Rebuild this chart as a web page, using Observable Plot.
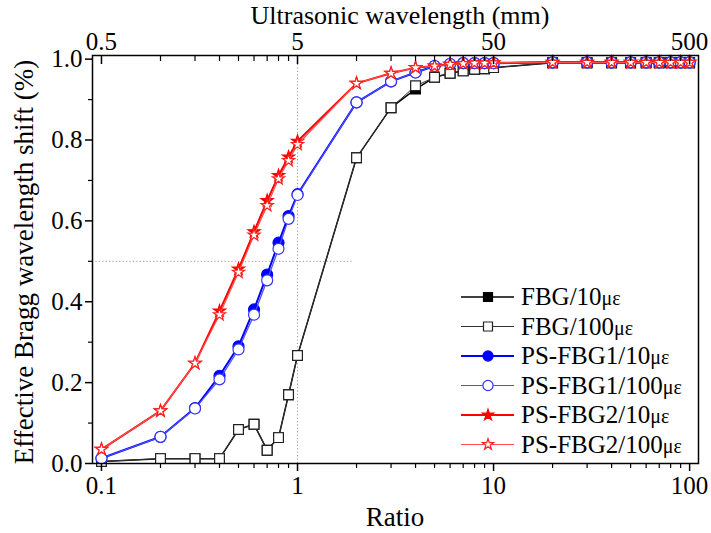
<!DOCTYPE html>
<html><head><meta charset="utf-8">
<script src="https://cdn.jsdelivr.net/npm/d3@7"></script>
<script src="https://cdn.jsdelivr.net/npm/@observablehq/plot@0.6"></script>
<style>
body{margin:0;background:#fff;}
#wrap{position:relative;width:711px;height:533px;font-family:'Liberation Serif',serif;}
</style>
</head><body><div id="wrap"></div>
<script>
const ratios = [0.1,0.2,0.3,0.4,0.5,0.6,0.7,0.8,0.9,1,2,3,4,5,6,7,8,9,10,20,30,40,50,60,70,80,90,100];
const fbg10 =  [0.005,0.012,0.012,0.012,0.084,0.097,0.033,0.064,0.170,0.267,0.756,0.880,0.926,0.955,0.965,0.971,0.975,0.976,0.979,0.991,0.991,0.991,0.991,0.991,0.991,0.991,0.991,0.991];
const fbg100 = [0.005,0.012,0.012,0.012,0.084,0.097,0.033,0.064,0.170,0.267,0.756,0.880,0.934,0.955,0.965,0.971,0.975,0.976,0.979,0.991,0.991,0.991,0.991,0.991,0.991,0.991,0.991,0.991];
const ps1_10 = [0.013,0.066,0.137,0.217,0.290,0.381,0.467,0.546,0.612,0.666,0.893,0.945,0.967,0.983,0.988,0.990,0.990,0.990,0.990,0.992,0.992,0.992,0.992,0.992,0.992,0.992,0.992,0.992];
const ps1_100 =[0.013,0.066,0.136,0.208,0.282,0.368,0.453,0.531,0.605,0.664,0.893,0.945,0.967,0.983,0.988,0.990,0.990,0.990,0.990,0.992,0.992,0.992,0.992,0.992,0.992,0.992,0.992,0.992];
const ps2_10 = [0.035,0.130,0.248,0.377,0.481,0.573,0.650,0.712,0.758,0.797,0.940,0.965,0.979,0.983,0.987,0.989,0.990,0.990,0.991,0.992,0.992,0.992,0.992,0.992,0.992,0.992,0.992,0.992];
const ps2_100 =[0.035,0.130,0.248,0.368,0.473,0.565,0.638,0.704,0.749,0.789,0.940,0.965,0.979,0.983,0.987,0.989,0.990,0.990,0.991,0.992,0.992,0.992,0.992,0.992,0.992,0.992,0.992,0.992];

const seriesNames = ["FBG/10", "FBG/100", "PS-FBG1/10", "PS-FBG1/100", "PS-FBG2/10", "PS-FBG2/100"];
const xMajor = [0.1, 1, 10, 100];
const xMinor = [0.2,0.3,0.4,0.5,0.6,0.7,0.8,0.9,2,3,4,5,6,7,8,9,20,30,40,50,60,70,80,90];
const yMajor = [0, 0.2, 0.4, 0.6, 0.8, 1.0];
const yMinor = [0.1, 0.3, 0.5, 0.7, 0.9];
const refX = [1];
const refY = [0.5];
const refYEnd = 1.9;
const xTitle = "Ratio";
const topTitle = "Ultrasonic wavelength (mm)";
const yTitle = "Effective Bragg wavelength shift (%)";

const styles = [
  {vals: fbg10,  line: "#000000", lw: 1.5, symbol: "square", r: 5.5, fill: "#000000", stroke: "#000000"},
  {vals: fbg100, line: "#333333", lw: 1.0, symbol: "square", r: 5.5, fill: "#ffffff", stroke: "#222222"},
  {vals: ps1_10, line: "#0000ff", lw: 2.0, symbol: "circle", r: 5.5, fill: "#0000ff", stroke: "#0000ff"},
  {vals: ps1_100,line: "#4d4dff", lw: 1.2, symbol: "circle", r: 5.5, fill: "#ffffff", stroke: "#3333ff"},
  {vals: ps2_10, line: "#ff0000", lw: 2.0, symbol: "star",   r: 3.8, fill: "#ff0000", stroke: "#ff0000"},
  {vals: ps2_100,line: "#ff4d4d", lw: 1.2, symbol: "star",   r: 3.8, fill: "#ffffff", stroke: "#ff2020"}
];
const tables = styles.map(s => ratios.map((x, i) => ({x, y: s.vals[i]})));
const FF = "'Liberation Serif', serif";

const marks = [
  Plot.ruleX(refX, {y1: 0, y2: 1.009, stroke: "#999", strokeDasharray: "1.2,2.2", strokeWidth: 1}),
  Plot.ruleY(refY, {x1: 0.09, x2: refYEnd, stroke: "#999", strokeDasharray: "1.2,2.2", strokeWidth: 1}),
];
styles.forEach((s, k) => {
  marks.push(Plot.line(tables[k], {x: "x", y: "y", stroke: s.line, strokeWidth: s.lw}));
  marks.push(Plot.dot(tables[k], {x: "x", y: "y", symbol: s.symbol, r: s.r, fill: s.fill, stroke: s.stroke, strokeWidth: 1.2}));
});
marks.push(
  Plot.frame({stroke: "#000", strokeWidth: 1.5}),
  Plot.axisX(xMajor, {anchor: "bottom", label: null, tickSize: 8, tickPadding: 5, tickFormat: d => String(d), fontSize: 25, fontFamily: FF, strokeWidth: 1.5}),
  Plot.axisX(xMinor, {anchor: "bottom", label: null, tickSize: 5, tickFormat: () => "", strokeWidth: 1.2}),
  Plot.axisX(xMajor, {anchor: "top", label: null, tickSize: -8, tickFormat: () => "", strokeWidth: 1.5}),
  Plot.axisX(xMinor, {anchor: "top", label: null, tickSize: -5, tickFormat: () => "", strokeWidth: 1.2}),
  Plot.axisX(xMajor, {anchor: "top", label: null, tickSize: 0, tickPadding: 6, tickFormat: d => String(d * 5), fontSize: 25, fontFamily: FF}),
  Plot.axisY(yMajor, {anchor: "left", label: null, tickSize: 7, tickPadding: 3, tickFormat: d3.format(".1f"), fontSize: 25, fontFamily: FF, strokeWidth: 1.5}),
  Plot.axisY(yMinor, {anchor: "left", label: null, tickSize: 4, tickFormat: () => "", strokeWidth: 1.2})
);

const chart = Plot.plot({
  width: 711, height: 533,
  marginLeft: 92, marginRight: 13, marginTop: 55, marginBottom: 70,
  x: {type: "log", domain: [0.09, 111]},
  y: {domain: [0, 1.009]},
  style: {fontFamily: FF, fontSize: "25px", color: "#000", background: "#fff"},
  marks
});
document.getElementById("wrap").appendChild(chart);

const svg = d3.select(chart);
// axis titles
svg.append("text").attr("x", 395).attr("y", 526).attr("text-anchor", "middle")
  .style("font-family", FF).attr("font-size", 27).attr("fill", "#000").text(xTitle);
svg.append("text").attr("x", 400).attr("y", 24).attr("text-anchor", "middle")
  .style("font-family", FF).attr("font-size", 26).attr("fill", "#000").text(topTitle);
svg.append("text").attr("transform", "translate(33,262) rotate(-90)").attr("text-anchor", "middle")
  .style("font-family", FF).attr("font-size", 27).attr("fill", "#000").text(yTitle);

// legend
const leg = svg.append("g").attr("transform", "translate(461,297)");
const symMap = {square: d3.symbolSquare, circle: d3.symbolCircle, star: d3.symbolStar};
styles.forEach((s, k) => {
  const g = leg.append("g").attr("transform", `translate(0,${k * 29.5})`);
  g.append("line").attr("x1", 0).attr("x2", 53).attr("y1", 0).attr("y2", 0)
    .attr("stroke", s.line).attr("stroke-width", s.lw);
  g.append("path").attr("transform", "translate(27,0)")
    .attr("d", d3.symbol(symMap[s.symbol], Math.PI * s.r * s.r * 0.85)())
    .attr("fill", s.fill).attr("stroke", s.stroke).attr("stroke-width", 1.2);
  const t = g.append("text").attr("x", 60).attr("y", 8).attr("text-anchor", "start")
    .style("font-family", FF).attr("font-size", 25).attr("fill", "#000");
  t.append("tspan").text(seriesNames[k]);
  t.append("tspan").attr("font-size", 20).text("με");
});
</script>
</body></html>
